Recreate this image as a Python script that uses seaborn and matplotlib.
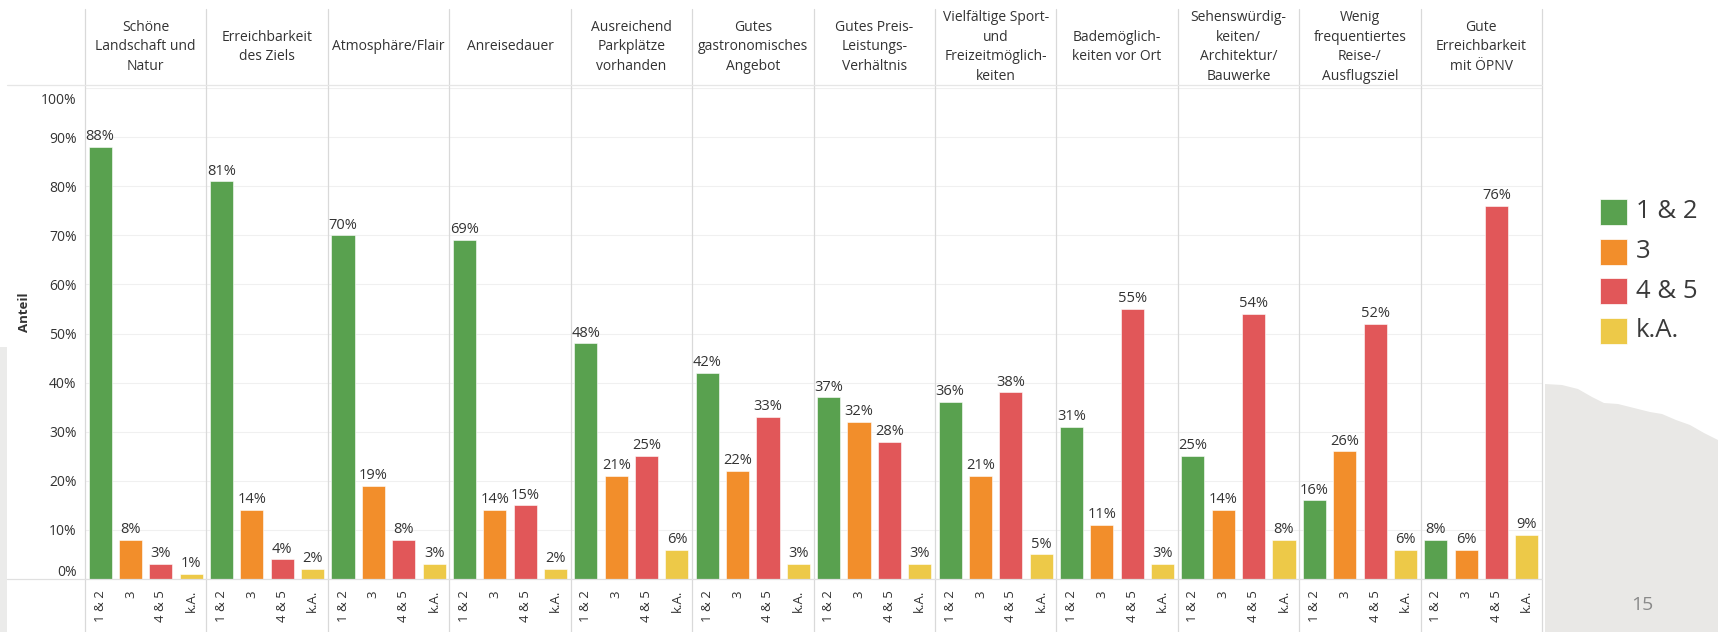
import matplotlib
matplotlib.use("Agg")
import numpy as np
import pandas as pd
import seaborn as sns
from matplotlib import pyplot as plt
from matplotlib.patches import Polygon, Rectangle
from matplotlib.lines import Line2D
from matplotlib import transforms


# header texts of the 12 panels (line breaks as in the original)
categories = [
    "Schöne\nLandschaft und\nNatur",
    "Erreichbarkeit\ndes Ziels",
    "Atmosphäre/Flair",
    "Anreisedauer",
    "Ausreichend\nParkplätze\nvorhanden",
    "Gutes\ngastronomisches\nAngebot",
    "Gutes Preis-\nLeistungs-\nVerhältnis",
    "Vielfältige Sport-\nund\nFreizeitmöglich-\nkeiten",
    "Bademöglich-\nkeiten vor Ort",
    "Sehenswürdig-\nkeiten/\nArchitektur/\nBauwerke",
    "Wenig\nfrequentiertes\nReise-/\nAusflugsziel",
    "Gute\nErreichbarkeit\nmit ÖPNV",
]
levels = ["1 & 2", "3", "4 & 5", "k.A."]

# shares in percent per level
share_12 = [88, 81, 70, 69, 48, 42, 37, 36, 31, 25, 16, 8]
share_3 = [8, 14, 19, 14, 21, 22, 32, 21, 11, 14, 26, 6]
share_45 = [3, 4, 8, 15, 25, 33, 28, 38, 55, 54, 52, 76]
share_ka = [1, 2, 3, 2, 6, 3, 3, 5, 3, 8, 6, 9]

colors = ["#59A14F", "#F28E2B", "#E15759", "#EDC948"]
y_ticks = list(range(0, 101, 10))

W, H = 1718, 632
text_col = "#333333"
line_col = "#d9d9d9"

sns.set_style("white")
plt.rcParams["font.family"] = ["Open Sans", "DejaVu Sans"]

df = pd.DataFrame({
    "cat": np.repeat(categories, 4),
    "level": levels * len(categories),
    "value": [v for row in zip(share_12, share_3, share_45, share_ka) for v in row],
})

fig = plt.figure(figsize=(W / 100, H / 100), dpi=100)
axes = fig.subplots(1, len(categories), sharey=True, gridspec_kw=dict(wspace=0))
fig.subplots_adjust(left=85 / W, right=1542 / W, bottom=1 - 579 / H, top=1 - 88 / H)

for i, (ax, cat) in enumerate(zip(axes, categories)):
    sub = df[df["cat"] == cat]
    sns.barplot(data=sub, x="level", y="value", hue="level", order=levels,
                hue_order=levels, palette=colors, width=0.76, legend=False,
                ax=ax, saturation=1, edgecolor="white", linewidth=0.4)
    for cont in ax.containers:
        ax.bar_label(cont, labels=[f"{v:.0f}%" for v in cont.datavalues],
                     padding=2, fontsize=10.5, color=text_col)
    ax.set_ylim(0, 100)
    ax.set_xlim(-0.5, 3.5)
    ax.set_yticks(y_ticks)
    ax.yaxis.grid(True, color="#f0f0f0", linewidth=0.8)
    ax.set_axisbelow(True)
    ax.set_xlabel("")
    ax.set_ylabel("")
    ax.tick_params(axis="x", length=0, labelrotation=90, labelsize=9.5,
                   labelcolor=text_col, pad=8)
    ax.tick_params(axis="y", length=0, labelsize=10, labelcolor=text_col, pad=6)
    for s in ["top", "left", "right", "bottom"]:
        ax.spines[s].set_visible(False)

    # header above each panel
    pos = ax.get_position()
    fig.text((pos.x0 + pos.x1) / 2, 1 - 47 / H, cat, ha="center", va="center",
             fontsize=10, color=text_col, linespacing=1.4)

axes[0].set_yticklabels([f"{t}%" for t in y_ticks])
# keep the end labels inside like the original
lbls = axes[0].get_yticklabels()
lbls[0].set_transform(lbls[0].get_transform() +
                      transforms.ScaledTranslation(0, 9 / 100, fig.dpi_scale_trans))
lbls[-1].set_transform(lbls[-1].get_transform() +
                       transforms.ScaledTranslation(0, -10 / 100, fig.dpi_scale_trans))

# panel separators and frame lines
for ax in axes:
    x0 = ax.get_position().x0
    fig.add_artist(Line2D([x0, x0], [0, 1 - 9 / H], color=line_col, lw=0.9))
x1 = axes[-1].get_position().x1
fig.add_artist(Line2D([x1, x1], [0, 1 - 9 / H], color=line_col, lw=0.9))
fig.add_artist(Line2D([7 / W, x1], [1 - 85 / H, 1 - 85 / H], color="#e6e6e6", lw=0.9))
fig.add_artist(Line2D([7 / W, x1], [1 - 579 / H, 1 - 579 / H], color="#e0e0e0", lw=0.9))

fig.text(24 / W, 1 - 312 / H, "Anteil", rotation=90, ha="center", va="center",
         fontsize=9.5, fontweight="bold", color=text_col)

# legend
for j, (lev, c) in enumerate(zip(levels, colors)):
    yc = 212 + j * 39.5
    fig.add_artist(Rectangle((1600 / W, 1 - (yc + 13) / H), 27 / W, 26 / H,
                             transform=fig.transFigure, facecolor=c,
                             edgecolor="white", lw=0.5))
    fig.text(1636 / W, 1 - yc / H, lev, ha="left", va="center",
             fontsize=18.5, color="#3a3a3a")

# slide decorations
fig.add_artist(Rectangle((0, 0), 7 / W, 1 - 347 / H, transform=fig.transFigure,
                         facecolor="#ebebea", edgecolor="none"))
hill = [(1545, 632), (1545, 384), (1562, 385), (1578, 389), (1592, 397),
        (1604, 403), (1618, 404), (1634, 408), (1650, 412), (1662, 414),
        (1676, 420), (1690, 425), (1704, 433), (1718, 440), (1718, 632)]
fig.add_artist(Polygon([(x / W, 1 - y / H) for x, y in hill], closed=True,
                       transform=fig.transFigure, facecolor="#e9e8e6",
                       edgecolor="none"))
fig.text(1642 / W, 1 - 605 / H, "15", ha="center", va="center", fontsize=14,
         color="#8a8a8a")

fig.savefig("out.png", dpi=100, facecolor="white")
